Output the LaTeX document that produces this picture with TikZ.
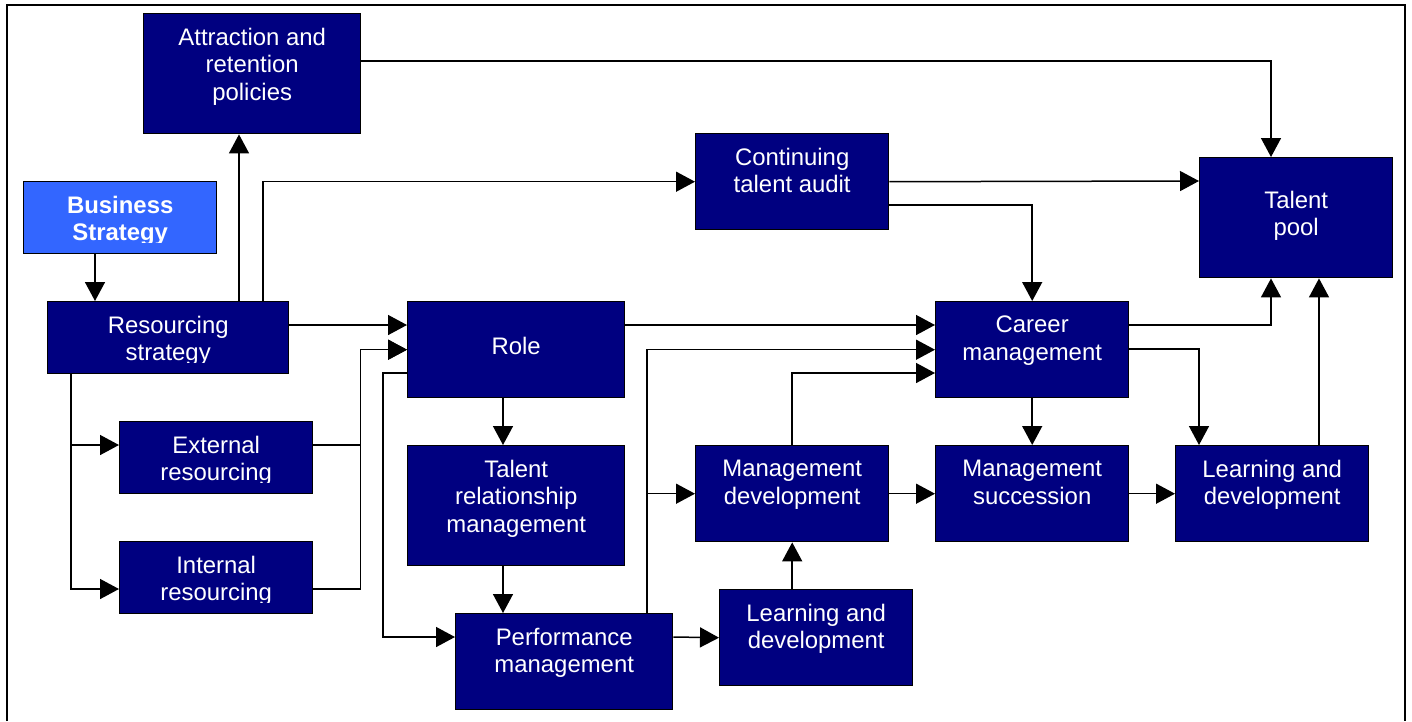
\documentclass[tikz,border=0pt]{standalone}
\usepackage{fontspec}
\setmainfont{Liberation Sans}
\usetikzlibrary{positioning, arrows.meta}
\definecolor{navybox}{RGB}{0,0,128}
\definecolor{bizblue}{RGB}{51,102,255}

\begin{document}
\begin{tikzpicture}[x=1pt, y=-1pt, line width=1.5pt,
  textdrop/.store in=\blkdrop, textdrop=13.75pt,
  blktext/.style={anchor=north, inner sep=0pt, minimum width=0pt, minimum height=0pt, text=white, align=center, font=\fontsize{23.9}{27.5}\selectfont, execute at begin node=\strut},
  blk/.style={draw=black, fill=navybox, anchor=north west, inner sep=0pt, line width=1.4pt,
    path picture={\clip ([yshift=11pt]path picture bounding box.south west) rectangle (path picture bounding box.north east);
      \node[blktext] at ([yshift=-\blkdrop]path picture bounding box.north) {#1};}},
  arr/.style={-{Triangle[length=19pt, width=20pt]}}]
\useasboundingbox (0,0) rectangle (1412,721);
\draw (7,721) -- (7,5) -- (1405,5) -- (1405,721);

\node[blk={Attraction and\\retention\\policies}, minimum width=217pt, minimum height=120pt] (attr) at (143,13) {};
\node[blk={\textbf{Business}\\\textbf{Strategy}}, fill=bizblue, minimum width=193pt, minimum height=72pt] (bus) at (23,181) {};
\node[blk={Resourcing\\strategy}, minimum width=241pt, minimum height=72pt] (res) at (47,301) {};
\node[blk={External\\resourcing}, minimum width=193pt, minimum height=72pt] (ext) at (119,421) {};
\node[blk={Internal\\resourcing}, minimum width=193pt, minimum height=72pt] (int) at (119,541) {};
\node[blk={Role}, textdrop=32.75pt, minimum width=217pt, minimum height=96pt] (role) at (407,301) {};
\node[blk={Talent\\relationship\\management}, minimum width=217pt, minimum height=120pt] (trm) at (407,445) {};
\node[blk={Performance\\management}, minimum width=217pt, minimum height=96pt] (perf) at (455,613) {};
\node[blk={Learning and\\development}, minimum width=193pt, minimum height=96pt] (lrnlow) at (719,589) {};
\node[blk={Management\\development}, minimum width=193pt, minimum height=96pt] (mdev) at (695,445) {};
\node[blk={Continuing\\talent audit}, minimum width=193pt, minimum height=96pt] (audit) at (695,133) {};
\node[blk={Career\\management}, minimum width=193pt, minimum height=96pt] (career) at (935,301) {};
\node[blk={Management\\succession}, minimum width=193pt, minimum height=96pt] (msucc) at (935,445) {};
\node[blk={Learning and\\development}, minimum width=193pt, minimum height=96pt] (lrnright) at (1175,445) {};
\node[blk={Talent\\pool}, textdrop=32.75pt, minimum width=193pt, minimum height=120pt] (pool) at (1199,157) {};

\draw[arr] ([xshift=72pt]bus.south west) -- ([xshift=48pt]res.north west);
\draw[arr] ([xshift=192pt]res.north west) -- ([xshift=96pt]attr.south west);
\draw[arr] ([xshift=216pt]res.north west) |- (audit.west);
\draw[arr] ([yshift=-24pt]res.north east) -- ([yshift=-24pt]role.north west);
\draw[arr] ([xshift=24pt]res.south west) |- ([yshift=-24pt]ext.north west);
\draw[arr] ([xshift=24pt]res.south west) |- ([yshift=-48pt]int.north west);
\draw[arr] ([yshift=-24pt]ext.north east) -- ++(47,0) |- (role.west);
\draw[arr] ([yshift=-48pt]int.north east) -- ++(47,0) |- (role.west);
\draw[arr] ([yshift=-72pt]role.north west) -- ++(-24,0) |- ([yshift=-24pt]perf.north west);
\draw[arr] ([xshift=96pt]role.south west) -- ([xshift=96pt]trm.north west);
\draw[arr] ([xshift=96pt]trm.south west) -- ([xshift=48pt]perf.north west);
\draw[arr] ([yshift=-24pt]role.north east) -- ([yshift=-24pt]career.north west);
\draw[arr] ([xshift=192pt]perf.north west) |- (career.west);
\draw[arr] ([xshift=192pt]perf.north west) |- (mdev.west);
\draw[arr] ([yshift=-24pt]perf.north east) -- (lrnlow.west);
\draw[arr] (mdev.south |- lrnlow.north) -- (mdev.south);
\draw[arr] (mdev.north) |- ([yshift=-72pt]career.north west);
\draw[arr] (mdev.east) -- (msucc.west);
\draw[arr] (msucc.east) -- (lrnright.west);
\draw[arr] (career.south) -- (msucc.north);
\draw[arr] ([yshift=-24pt]career.north east) -| ([xshift=72pt]pool.south west);
\draw[arr] ([yshift=-48pt]career.north east) -| ([xshift=24pt]lrnright.north west);
\draw[arr] ([xshift=144pt]lrnright.north west) -- ([xshift=120pt]pool.south west);
\draw[arr] (audit.east) -- ([yshift=-24pt]pool.north west);
\draw[arr] ([yshift=-72pt]audit.north east) -| (career.north);
\draw[arr] ([yshift=-48pt]attr.north east) -| ([xshift=72pt]pool.north west);

\end{tikzpicture}
\end{document}
